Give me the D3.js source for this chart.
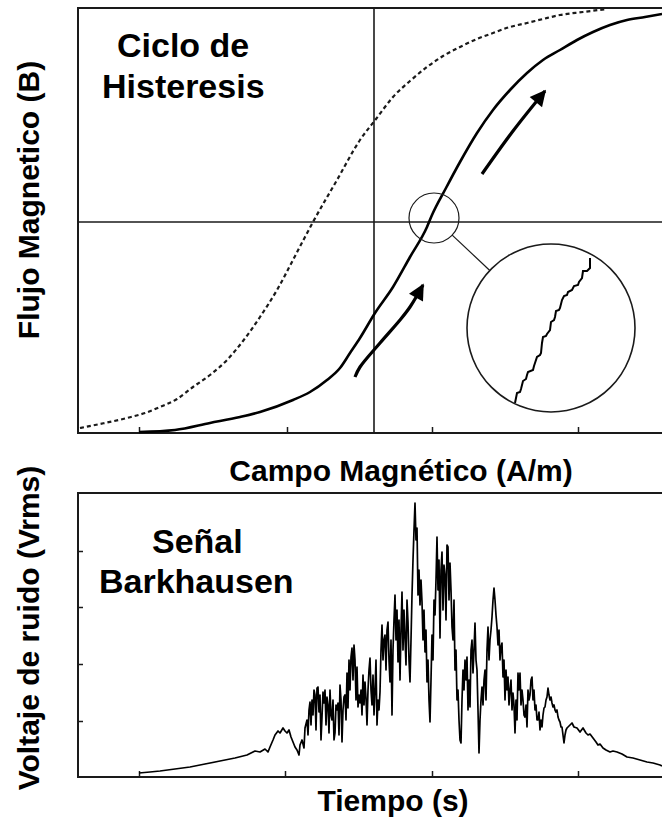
<!DOCTYPE html>
<html>
<head>
<meta charset="utf-8">
<script src="https://cdn.jsdelivr.net/npm/d3@7"></script>
<style>
  body { margin: 0; background: #fff; }
  svg text { font-family: "Liberation Sans", Arial, sans-serif; font-weight: bold; fill: #000; }
</style>
</head>
<body>
<svg id="chart" width="662" height="819"></svg>
<script>
// hysteresis branches, H (A/m) and B (arbitrary units)
var risingH  = [-235,-199,-164,-134,-114,-81,-64,-47,-34,-24,-14,1,19,36,53,58,72,86,103,119,136,153,169,186,203,219,236,253,271,288];
var risingB  = [-210,-208,-201,-195,-190,-178,-170,-158,-146,-131,-116,-91,-65,-35,-5,7,34,60,89,112,132,149,162,172,182,190,197,202,205,208];
var fallingH = [-294,-274,-247,-229,-214,-197,-181,-164,-147,-131,-114,-97,-81,-69,-61,-37,-14,2,19,36,53,69,86,103,119,136,153,169,186,209,233];
var fallingB = [-206,-202,-196,-191,-185,-177,-165,-153,-138,-119,-95,-68,-38,-15,0,42,82,103,125,141,155,166,175,183,189,195,199,203,207,210,213];

// arrows along the loop
var arrowUpper = [[108,48],[139,91],[171,131]];
var arrowLower = [[-19,-155],[-14,-145],[6,-121],[26,-98],[36,-85],[49,-63]];

// zoom circle + Barkhausen staircase inside it (relative to inset centre)
var zoomSpot   = {h: 60, b: 4, r: 25};
var insetSpot  = {h: 177, b: -106, r: 84};
var staircase  = [[-36,-75],[-34,-65],[-31,-64],[-30,-61],[-28,-53],[-25,-51],[-24,-47],[-23,-44],[-18,-42],[-17,-38],
                  [-16,-35],[-14,-29],[-11,-27],[-10,-25],[-9,-15],[-8,-9],[-5,-8],[-4,-6],[-1,-2],[0,6],[3,8],[4,11],
                  [5,17],[8,18],[9,20],[11,28],[13,32],[16,33],[17,36],[21,38],[23,42],[27,43],[28,46],[31,50],[32,57],
                  [36,57],[37,58],[39,60],[39,70]];

var hTicks = [-235,-87,58,204];

// Barkhausen noise: [time (ms), voltage (mV)]
var signal = [
  [0,4],[11,5],[21,6],[36,8],[51,10],[66,13],[81,16],[96,19],[108,22],[116,26],[121,25],[126,28],[129,25],[131,30],
  [134,37],[136,42],[139,46],[141,44],[144,49],[146,46],[148,44],[150,47],[152,40],[154,35],[156,30],[158,27],[160,22],
  [161,32],[163,37],[165,29],[166,49],[168,57],[169,42],[170,67],[171,75],[172,52],[173,77],[174,62],[175,87],[176,82],
  [177,47],[178,89],[179,90],[180,65],[181,82],[182,37],[183,60],[184,85],[185,74],[186,87],[187,52],[188,80],[189,72],
  [190,44],[191,87],[192,62],[193,57],[194,77],[195,37],[196,44],[197,72],[198,67],[199,74],[200,42],[201,92],[202,77],
  [203,35],[204,67],[205,80],[206,82],[207,57],[208,104],[209,69],[210,117],[211,87],[212,120],[213,129],[214,97],
  [215,132],[216,117],[217,77],[218,110],[219,70],[220,82],[221,74],[222,87],[223,62],[224,102],[225,72],[226,95],
  [227,79],[228,52],[229,87],[230,107],[231,119],[232,87],[233,72],[234,102],[235,62],[236,87],[237,117],[238,52],
  [239,77],[240,67],[241,85],[242,127],[243,152],[244,117],[245,137],[246,142],[247,107],[248,147],[249,155],[250,117],
  [251,95],[252,137],[253,62],[254,127],[255,157],[256,182],[257,137],[258,167],[259,115],[260,157],[261,97],[262,147],
  [263,185],[264,127],[265,167],[266,139],[267,112],[268,177],[269,155],[270,117],[271,95],[272,137],[273,182],
  [274,217],[275,247],[276,274],[277,237],[278,249],[279,182],[280,207],[281,172],[282,197],[283,175],[284,137],
  [285,167],[286,125],[287,147],[288,95],[289,117],[290,77],[291,55],[292,97],[293,142],[294,117],[295,177],[296,162],
  [297,197],[298,240],[299,187],[300,217],[301,139],[302,207],[303,225],[304,167],[305,212],[306,202],[307,157],
  [308,232],[309,230],[310,177],[311,214],[312,187],[313,150],[314,137],[315,177],[316,107],[317,127],[318,77],
  [319,87],[320,57],[321,37],[322,34],[323,77],[324,107],[325,87],[326,117],[327,97],[328,120],[329,67],[330,97],
  [331,70],[332,127],[333,137],[334,104],[335,127],[336,154],[337,117],[338,107],[339,67],[340,24],[341,57],[342,77],
  [343,90],[344,72],[345,97],[346,107],[347,77],[348,127],[349,150],[350,117],[351,137],[352,147],[353,160],[354,177],
  [355,189],[356,177],[357,162],[358,150],[359,132],[360,147],[361,117],[362,130],[363,134],[364,100],[365,117],
  [366,77],[367,107],[368,87],[369,100],[370,72],[371,87],[372,97],[373,67],[374,84],[375,72],[376,44],[377,77],
  [378,57],[379,104],[380,87],[381,104],[382,72],[383,87],[384,77],[385,62],[386,60],[387,72],[388,50],[389,87],
  [390,77],[391,82],[392,97],[393,100],[394,77],[395,87],[396,67],[397,72],[398,57],[399,57],[400,65],[401,47],
  [402,57],[403,50],[404,62],[405,69],[406,70],[407,77],[408,80],[409,89],[410,82],[411,77],[412,80],[413,74],
  [414,70],[415,72],[416,67],[417,65],[418,67],[419,60],[420,57],[421,55],[422,50],[423,50],[424,42],[425,34],
  [426,42],[427,47],[428,49],[429,50],[431,52],[433,54],[435,50],[438,49],[441,45],[444,49],[447,44],[449,42],
  [451,43],[454,39],[457,35],[459,32],[461,33],[464,29],[467,27],[471,25],[474,26],[478,25],[483,23],[488,20],
  [494,19],[501,17],[508,15],[514,14],[521,12],[523,11]
];
var tTicks = [0,146,293,439];
var vTicks = [56,113,170,226];

var svg = d3.select("#chart");
var ink = "#1a1a1a";

// ---------- top panel: hysteresis loop ----------
var hx = d3.scaleLinear().domain([-296, 288]).range([78, 662]);
var by = d3.scaleLinear().domain([-211, 214]).range([433, 8]);

var loopG = svg.append("g");

loopG.append("path")
  .attr("d", "M" + hx(330) + "," + by(214) + "H" + hx(-296) + "V" + by(-211) + "H" + hx(330))
  .attr("fill", "none").attr("stroke", ink).attr("stroke-width", 2);

loopG.append("g")
  .attr("transform", "translate(0," + by(-211) + ")")
  .call(d3.axisBottom(hx).tickValues(hTicks).tickSize(-6).tickFormat(""))
  .call(function(g) { g.select(".domain").remove(); })
  .selectAll("line").attr("stroke", ink).attr("stroke-width", 1.5);

// zero axes
loopG.append("line")
  .attr("x1", hx(0)).attr("x2", hx(0)).attr("y1", by(214)).attr("y2", by(-211))
  .attr("stroke", ink).attr("stroke-width", 1.6);
loopG.append("line")
  .attr("x1", hx(-296)).attr("x2", hx(288)).attr("y1", by(0)).attr("y2", by(0))
  .attr("stroke", ink).attr("stroke-width", 1.6);

var loopLine = d3.line()
  .x(function(d) { return hx(d[0]); })
  .y(function(d) { return by(d[1]); })
  .curve(d3.curveMonotoneX);

loopG.append("path")
  .datum(d3.zip(fallingH, fallingB))
  .attr("d", loopLine)
  .attr("fill", "none").attr("stroke", ink).attr("stroke-width", 2.2)
  .attr("stroke-dasharray", "4,3");

loopG.append("path")
  .datum(d3.zip(risingH, risingB))
  .attr("d", loopLine)
  .attr("fill", "none").attr("stroke", "#000").attr("stroke-width", 2.6);

// arrows
svg.append("defs").append("marker")
  .attr("id", "head")
  .attr("viewBox", "0 0 10 10")
  .attr("refX", 9).attr("refY", 5)
  .attr("markerUnits", "userSpaceOnUse")
  .attr("markerWidth", 18).attr("markerHeight", 16)
  .attr("orient", "auto")
  .append("path").attr("d", "M0,0L10,5L0,10Z").attr("fill", "#000");

var arrowLine = d3.line()
  .x(function(d) { return hx(d[0]); })
  .y(function(d) { return by(d[1]); })
  .curve(d3.curveCatmullRom);

[arrowUpper, arrowLower].forEach(function(a) {
  loopG.append("path")
    .datum(a)
    .attr("d", arrowLine)
    .attr("fill", "none").attr("stroke", "#000").attr("stroke-width", 3.2)
    .attr("marker-end", "url(#head)");
});

// zoom circle, connector and inset
var rPx = function(r) { return hx(r) - hx(0); };
loopG.append("circle")
  .attr("cx", hx(zoomSpot.h)).attr("cy", by(zoomSpot.b)).attr("r", rPx(zoomSpot.r))
  .attr("fill", "none").attr("stroke", ink).attr("stroke-width", 1.2);

var ang = Math.atan2(by(insetSpot.b) - by(zoomSpot.b), hx(insetSpot.h) - hx(zoomSpot.h));
loopG.append("line")
  .attr("x1", hx(zoomSpot.h) + Math.cos(ang) * rPx(zoomSpot.r))
  .attr("y1", by(zoomSpot.b) + Math.sin(ang) * rPx(zoomSpot.r))
  .attr("x2", hx(insetSpot.h) - Math.cos(ang) * rPx(insetSpot.r))
  .attr("y2", by(insetSpot.b) - Math.sin(ang) * rPx(insetSpot.r))
  .attr("stroke", ink).attr("stroke-width", 1.2);

loopG.append("circle")
  .attr("cx", hx(insetSpot.h)).attr("cy", by(insetSpot.b)).attr("r", rPx(insetSpot.r))
  .attr("fill", "#fff").attr("stroke", ink).attr("stroke-width", 1.6);

var ix = d3.scaleLinear().domain([-84, 84]).range([hx(insetSpot.h) - 84, hx(insetSpot.h) + 84]);
var iy = d3.scaleLinear().domain([-84, 84]).range([by(insetSpot.b) + 84, by(insetSpot.b) - 84]);
loopG.append("path")
  .datum(staircase)
  .attr("d", d3.line().x(function(d) { return ix(d[0]); }).y(function(d) { return iy(d[1]); }))
  .attr("fill", "none").attr("stroke", "#000").attr("stroke-width", 2)
  .attr("stroke-linejoin", "miter");

loopG.append("text").attr("x", 117).attr("y", 57).style("font-size", "34px").text("Ciclo de");
loopG.append("text").attr("x", 102).attr("y", 98).style("font-size", "34px").text("Histeresis");

svg.append("text")
  .attr("transform", "translate(39,200) rotate(-90)")
  .attr("text-anchor", "middle").style("font-size", "30px")
  .text("Flujo Magnetico (B)");
svg.append("text")
  .attr("x", 401).attr("y", 481).attr("text-anchor", "middle").style("font-size", "30px")
  .text("Campo Magnético (A/m)");

// ---------- bottom panel: Barkhausen signal ----------
var tx = d3.scaleLinear().domain([-61, 523]).range([78, 662]);
var vy = d3.scaleLinear().domain([0, 284]).range([777, 493]);

var noiseG = svg.append("g");
noiseG.append("path")
  .attr("d", "M" + tx(560) + "," + vy(284) + "H" + tx(-61) + "V" + vy(0) + "H" + tx(560))
  .attr("fill", "none").attr("stroke", ink).attr("stroke-width", 2);

noiseG.append("g")
  .attr("transform", "translate(0," + vy(0) + ")")
  .call(d3.axisBottom(tx).tickValues(tTicks).tickSize(-6).tickFormat(""))
  .call(function(g) { g.select(".domain").remove(); })
  .selectAll("line").attr("stroke", ink).attr("stroke-width", 1.5);

noiseG.append("g")
  .attr("transform", "translate(" + tx(-61) + ",0)")
  .call(d3.axisLeft(vy).tickValues(vTicks).tickSize(-5).tickFormat(""))
  .call(function(g) { g.select(".domain").remove(); })
  .selectAll("line").attr("stroke", ink).attr("stroke-width", 1.5);

noiseG.append("path")
  .datum(signal)
  .attr("d", d3.line().x(function(d) { return tx(d[0]); }).y(function(d) { return vy(d[1]); }))
  .attr("fill", "none").attr("stroke", "#000").attr("stroke-width", 1.7)
  .attr("stroke-linejoin", "round");

noiseG.append("text").attr("x", 152).attr("y", 553).style("font-size", "34px").text("Señal");
noiseG.append("text").attr("x", 99).attr("y", 593).style("font-size", "34px").text("Barkhausen");

svg.append("text")
  .attr("transform", "translate(39,628) rotate(-90)")
  .attr("text-anchor", "middle").style("font-size", "30px")
  .text("Voltaje de ruido (Vrms)");
svg.append("text")
  .attr("x", 393).attr("y", 811).attr("text-anchor", "middle").style("font-size", "30px")
  .text("Tiempo (s)");
</script>
</body>
</html>
